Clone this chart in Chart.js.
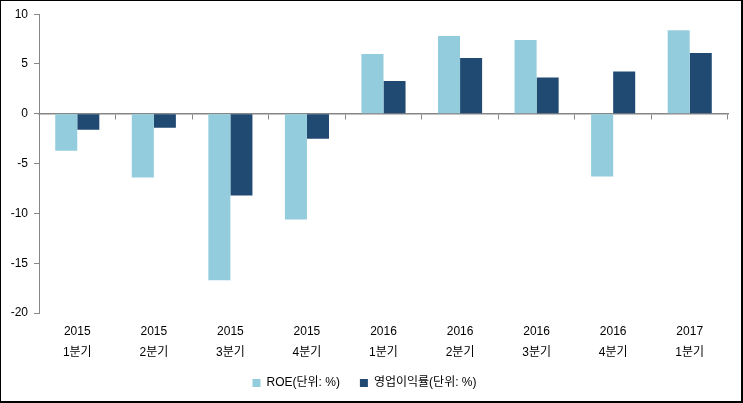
<!DOCTYPE html>
<html><head><meta charset="utf-8">
<script src="https://cdn.jsdelivr.net/npm/chart.js@4.4.0/dist/chart.umd.min.js"></script>
<style>
html,body{margin:0;padding:0;background:#fff;}
#wrap{width:743px;height:403px;box-sizing:border-box;border:1px solid #000;border-right-width:2px;border-bottom-width:2px;position:relative;}
canvas{display:block;}
</style></head>
<body><div id="wrap"><canvas id="c" width="740" height="400"></canvas></div>
<script>
const years = ['2015','2015','2015','2015','2016','2016','2016','2016','2017'];
const quarters = ['1분기','2분기','3분기','4분기','1분기','2분기','3분기','4분기','1분기'];
const roe = [-3.7, -6.4, -16.7, -10.6, 6.0, 7.8, 7.4, -6.3, 8.4];
const opMargin = [-1.6, -1.4, -8.2, -2.5, 3.3, 5.6, 3.65, 4.25, 6.1];
const seriesNames = ['ROE(단위: %)', '영업이익률(단위: %)'];
const yTicks = [-20, -15, -10, -5, 0, 5, 10];

const labels = years.map((y, i) => [y, quarters[i]]);
const FONT = "'Liberation Sans', 'Noto Sans CJK KR', sans-serif";
const GREY = '#868686';

new Chart(document.getElementById('c'), {
  type: 'bar',
  data: {
    labels: labels,
    datasets: [
      { label: seriesNames[0], data: roe, backgroundColor: '#93CDDD', xAxisID: 'x', yAxisID: 'y' },
      { label: seriesNames[1], data: opMargin, backgroundColor: '#214A73', xAxisID: 'x', yAxisID: 'y' }
    ]
  },
  options: {
    responsive: false,
    animation: false,
    devicePixelRatio: 1,
    layout: { padding: { top: 10, right: 13, left: 0, bottom: 2 } },
    datasets: { bar: { categoryPercentage: 0.576, barPercentage: 1.0 } },
    scales: {
      x: {
        type: 'category',
        position: 'bottom',
        grid: { display: false, drawTicks: false, tickLength: 0 },
        border: { display: false },
        ticks: { color: '#000', font: { family: FONT, size: 12, lineHeight: 1.75 }, padding: 8, maxRotation: 0, autoSkip: false },
        afterFit: (s) => { s.height = 44; }
      },
      x2: {
        type: 'category',
        labels: labels,
        position: { y: 0 },
        offset: true,
        grid: { display: true, drawOnChartArea: false, offset: true, color: GREY, tickLength: 5, tickWidth: 1 },
        border: { display: true, color: GREY, width: 1.5 },
        ticks: { display: false }
      },
      y: {
        min: -20, max: 10,
        afterBuildTicks: (s) => { s.ticks = yTicks.map(v => ({ value: v })); },
        grid: { display: true, drawOnChartArea: false, color: GREY, tickLength: 5 },
        border: { display: true, color: GREY, width: 1 },
        ticks: { color: '#000', font: { family: FONT, size: 12 }, padding: 6 },
        afterFit: (s) => { s.width = 38; }
      }
    },
    plugins: {
      legend: {
        position: 'bottom',
        labels: { boxWidth: 8, boxHeight: 8, color: '#000', font: { family: FONT, size: 12 }, padding: 20 }
      },
      tooltip: { enabled: false }
    }
  }
});
</script></body></html>
